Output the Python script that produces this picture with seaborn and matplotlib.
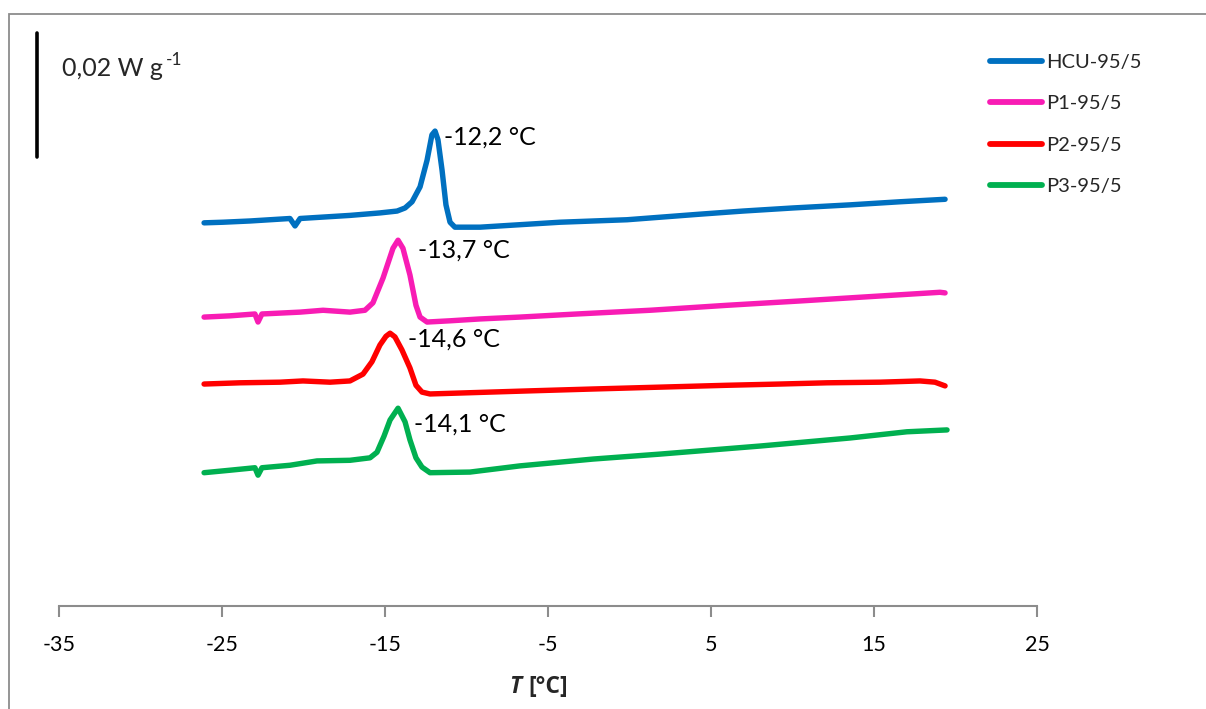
import matplotlib
matplotlib.use("Agg")
import matplotlib.pyplot as plt
from matplotlib.patches import Rectangle
import seaborn as sns
import pandas as pd

# ---- data (T in °C, heat flow in mW/g, curves vertically offset) ----
hcu_T = [-26.10, -24.94, -23.28, -20.83, -20.52, -20.21, -17.15, -15.31, -14.26, -13.77,
         -13.34, -12.85, -12.42, -12.12, -11.93, -11.75, -11.50, -11.26, -11.01, -10.71,
         -9.17, -6.72, -4.26, -0.15, 4.33, 6.96, 10.03, 13.53, 16.60, 19.36]
hcu_q = [61.8, 61.9, 62.1, 62.5, 61.3, 62.5, 63.0, 63.4, 63.7, 64.2,
         65.2, 67.6, 71.9, 76.0, 76.6, 75.2, 70.3, 64.7, 61.9, 61.1,
         61.1, 61.5, 61.9, 62.3, 63.2, 63.7, 64.2, 64.7, 65.2, 65.6]

p1_T = [-26.10, -24.51, -22.98, -22.79, -22.55, -20.21, -18.80, -17.15, -16.23, -15.74,
        -15.12, -14.51, -14.20, -13.90, -13.47, -13.10, -12.85, -12.42, -11.01, -9.17,
        -6.72, -3.22, 1.26, 5.98, 10.46, 14.14, 17.21, 19.05, 19.36]
p1_q = [46.6, 46.8, 47.1, 45.8, 47.1, 47.4, 47.7, 47.4, 47.7, 48.9,
        52.9, 57.7, 59.0, 57.7, 53.4, 48.5, 46.6, 45.8, 46.0, 46.3,
        46.6, 47.1, 47.7, 48.5, 49.2, 49.8, 50.3, 50.6, 50.5]

p2_T = [-26.10, -23.90, -21.44, -20.03, -18.37, -17.15, -16.35, -15.80, -15.31, -14.94,
        -14.69, -14.39, -13.96, -13.47, -13.10, -12.73, -12.24, -9.79, -6.10, -2.24,
        1.87, 5.98, 9.23, 12.12, 15.37, 17.82, 18.74, 19.36]
p2_q = [35.8, 36.0, 36.1, 36.3, 36.1, 36.3, 37.4, 39.4, 42.1, 43.5,
        44.0, 43.4, 41.3, 38.4, 35.6, 34.5, 34.2, 34.4, 34.7, 35.0,
        35.3, 35.6, 35.8, 36.0, 36.1, 36.3, 36.1, 35.5]

p3_T = [-26.10, -24.51, -22.98, -22.79, -22.55, -20.83, -19.17, -17.15, -15.92, -15.49,
        -15.06, -14.69, -14.20, -13.77, -13.47, -13.10, -12.73, -12.24, -9.79, -6.72,
        -2.24, 1.87, 8.01, 13.53, 17.02, 19.48]
p3_q = [21.5, 21.9, 22.3, 21.1, 22.3, 22.7, 23.4, 23.5, 23.9, 24.8,
        27.4, 30.0, 31.9, 29.7, 26.8, 23.9, 22.4, 21.5, 21.6, 22.6,
        23.7, 24.5, 25.8, 27.1, 28.1, 28.4]

names = ["HCU-95/5", "P1-95/5", "P2-95/5", "P3-95/5"]
colors = ["#0070C0", "#F81CB4", "#FF0000", "#00B050"]
peak_labels = ["-12,2 °C", "-13,7 °C", "-14,6 °C", "-14,1 °C"]
peak_label_pos = [(-11.4, 75.6), (-13.0, 57.4), (-13.6, 43.0), (-13.2, 29.4)]
x_ticks = [-35, -25, -15, -5, 5, 15, 25]
scale_bar = 20.0  # mW/g = 0.02 W/g

series = [(hcu_T, hcu_q), (p1_T, p1_q), (p2_T, p2_q), (p3_T, p3_q)]

sns.set_style("white")
plt.rcParams["font.family"] = ["Lato", "DejaVu Sans"]

W, H = 1206, 709
fig = plt.figure(figsize=(W / 100, H / 100), dpi=100)
ax = fig.add_axes([59 / W, (H - 606) / H, 978 / W, 591 / H])

for (T, q), name, c in zip(series, names, colors):
    df = pd.DataFrame({"T": T, "q": q})
    sns.lineplot(data=df, x="T", y="q", sort=False, estimator=None, color=c,
                 lw=3.9, label=name, ax=ax, solid_capstyle="round",
                 solid_joinstyle="round")

for lab, (x, y) in zip(peak_labels, peak_label_pos):
    ax.text(x, y, lab, fontsize=18, va="center", ha="left", color="black")

ax.set_xlim(-35, 25)
ax.set_ylim(0, 591 / 6.2)
ax.set_xticks(x_ticks)
ax.set_xticklabels([str(t) for t in x_ticks], fontsize=15.5)
ax.set_yticks([])
ax.set_xlabel("")
ax.set_ylabel("")
for s in ["top", "right", "left"]:
    ax.spines[s].set_visible(False)
ax.spines["bottom"].set_color("#8C8C8C")
ax.spines["bottom"].set_linewidth(1.5)
ax.tick_params(axis="x", direction="out", length=8, width=1.5, color="#8C8C8C",
               pad=13, labelcolor="black", bottom=True)

# scale bar
sb_x = -36.35
sb_y0 = (606 - 157) / 6.2
ax.plot([sb_x, sb_x], [sb_y0, sb_y0 + scale_bar], color="black", lw=2.6,
        clip_on=False)
fig.text(62 / W, (H - 68) / H, "0,02 W g", fontsize=18, va="center", ha="left")
fig.text(166 / W, (H - 60) / H, "-1", fontsize=12.5, va="center", ha="left")

# x label: italic bold T + bold [°C]
fig.text(521 / W, (H - 687) / H, "T", fontsize=16.5, fontweight="bold",
         fontstyle="italic", ha="right", va="center", family="Open Sans")
fig.text(528 / W, (H - 687) / H, "[°C]", fontsize=16.5, fontweight="bold",
         ha="left", va="center", family="Open Sans")

leg = ax.legend(loc="upper left", bbox_to_anchor=(990 / W, (H - 54) / H),
                bbox_transform=fig.transFigure, frameon=False, fontsize=14.5,
                handlelength=2.6, handletextpad=0.2, labelspacing=1.2,
                borderpad=0, borderaxespad=0)
for line in leg.get_lines():
    line.set_linewidth(4.2)
    line.set_solid_capstyle("round")

# outer frame
fig.patches.append(Rectangle((9 / W, -0.1), 1.2, (H - 14) / H + 0.1,
                             transform=fig.transFigure, fill=False,
                             edgecolor="#8C8C8C", lw=1.3))

fig.savefig("out.png", dpi=100)
